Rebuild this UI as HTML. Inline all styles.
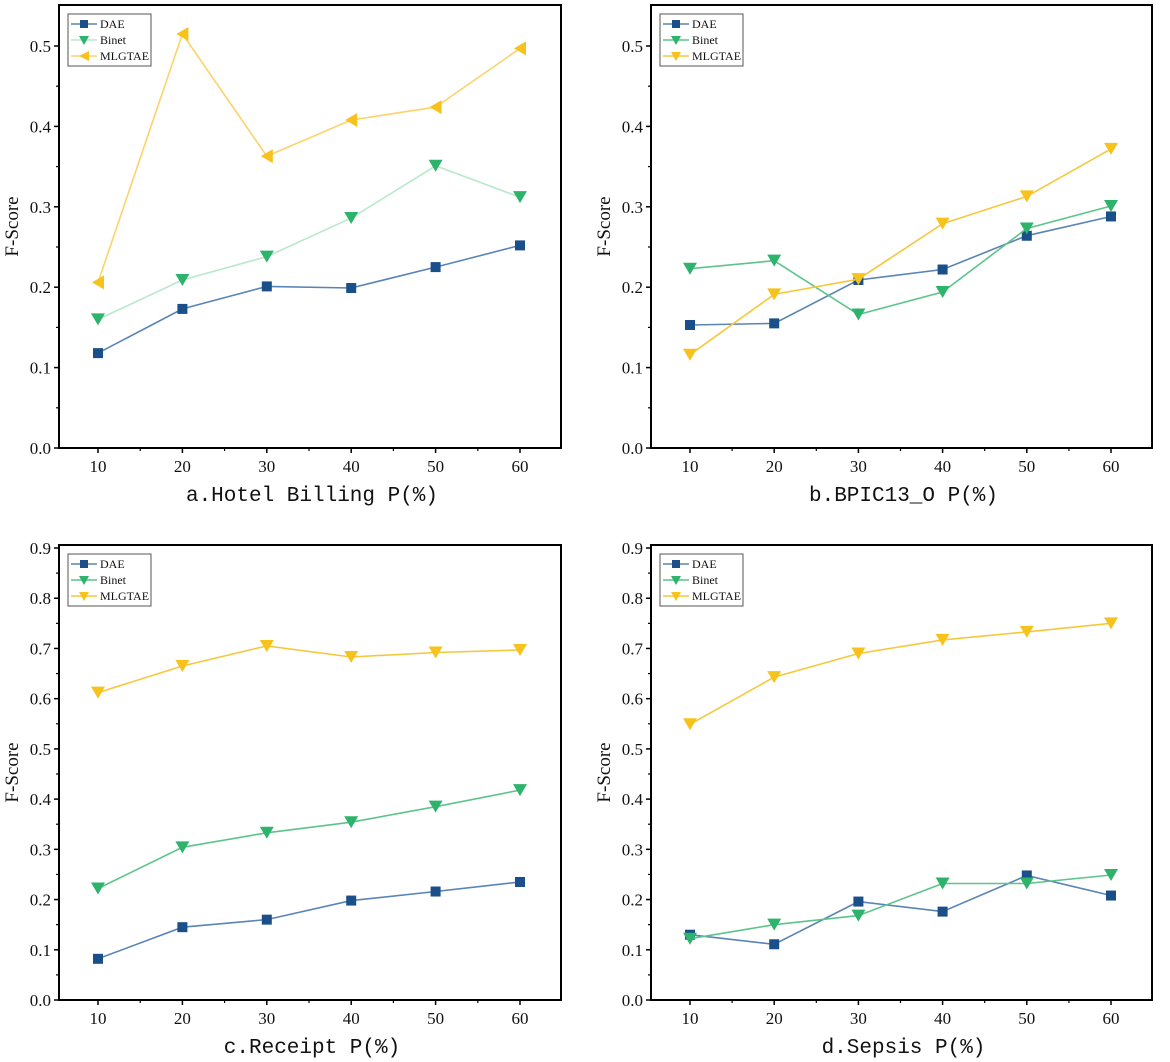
<!DOCTYPE html>
<html><head><meta charset="utf-8"><style>
html,body{margin:0;padding:0;background:#fff;}
svg{display:block;}
</style></head><body>
<svg id="c" width="1170" height="1062" xmlns="http://www.w3.org/2000/svg"></svg>
<script>
const xCats=[10,20,30,40,50,60];
const seriesNames=["DAE","Binet","MLGTAE"];
const aDAE=[0.118,0.173,0.201,0.199,0.225,0.252];
const aBinet=[0.160,0.209,0.238,0.286,0.351,0.312];
const aMLGTAE=[0.206,0.515,0.363,0.408,0.424,0.497];
const bDAE=[0.153,0.155,0.209,0.222,0.264,0.288];
const bBinet=[0.223,0.233,0.166,0.194,0.273,0.301];
const bMLGTAE=[0.116,0.191,0.210,0.279,0.313,0.372];
const cDAE=[0.082,0.145,0.160,0.198,0.216,0.235];
const cBinet=[0.222,0.304,0.333,0.354,0.385,0.418];
const cMLGTAE=[0.612,0.665,0.705,0.683,0.692,0.697];
const dDAE=[0.130,0.111,0.196,0.176,0.248,0.208];
const dBinet=[0.122,0.150,0.168,0.232,0.232,0.249];
const dMLGTAE=[0.549,0.643,0.690,0.717,0.733,0.750];
const yTicksTop=["0.0","0.1","0.2","0.3","0.4","0.5"];
const yTicksBot=["0.0","0.1","0.2","0.3","0.4","0.5","0.6","0.7","0.8","0.9"];
const titles=["a.Hotel Billing  P(%)","b.BPIC13_O P(%)","c.Receipt  P(%)","d.Sepsis  P(%)"];

const NS="http://www.w3.org/2000/svg";
const svg=document.getElementById('c');
function mk(tag,at,parent){const e=document.createElementNS(NS,tag);for(const k in at)e.setAttribute(k,at[k]);(parent||svg).appendChild(e);return e;}

const panels=[
 {id:'a',L:59,R:561,T:5,B:448,ymax:0.551,ticks:yTicksTop,data:[aDAE,aBinet,aMLGTAE],tri:'left',light:true,title:titles[0]},
 {id:'b',L:651,R:1152,T:5,B:448,ymax:0.551,ticks:yTicksTop,data:[bDAE,bBinet,bMLGTAE],tri:'down',light:false,title:titles[1]},
 {id:'c',L:59,R:561,T:545,B:1000,ymax:0.906,ticks:yTicksBot,data:[cDAE,cBinet,cMLGTAE],tri:'down',light:false,title:titles[2]},
 {id:'d',L:651,R:1152,T:545,B:1000,ymax:0.906,ticks:yTicksBot,data:[dDAE,dBinet,dMLGTAE],tri:'down',light:false,title:titles[3]}
];
const markerCol=["#1b4f8a","#2db36b","#f7c21b"];
function lineCol(i,light){return light?["#5a84b5","#b9e8cc","#fcd36a"][i]:["#5a84b5","#5cc48a","#f5c83c"][i];}

panels.forEach(p=>{
 const g=mk('g',{});
 
 
 const xS=v=>p.L+39+(v-10)/50*(p.R-p.L-80);
 const yS=v=>p.B-v/p.ymax*(p.B-p.T);
 // axes box
 const box=mk('rect',{x:p.L,y:p.T,width:p.R-p.L,height:p.B-p.T,fill:'none',stroke:'#000','stroke-width':2},g);
 
 
 // y ticks
 p.ticks.forEach((t,i)=>{
  const v=i*0.1,y=yS(v);
  mk('line',{x1:p.L-5,x2:p.L,y1:y,y2:y,stroke:'#000','stroke-width':1.5},g);
  if(i<p.ticks.length-1){const ym=yS(v+0.05);mk('line',{x1:p.L-3,x2:p.L,y1:ym,y2:ym,stroke:'#000','stroke-width':1.2},g);}
  const tx=mk('text',{x:p.L-8,y:y+6,'text-anchor':'end','font-family':'Liberation Serif, serif','font-size':17,fill:'#111'},g);
  tx.textContent=t;
  
  
 });
 // x ticks
 xCats.forEach((c,i)=>{
  const x=xS(c);
  mk('line',{x1:x,x2:x,y1:p.B,y2:p.B+5,stroke:'#000','stroke-width':1.5},g);
  const xm=xS(c+5);
  if(xm<p.R)mk('line',{x1:xm,x2:xm,y1:p.B,y2:p.B+3,stroke:'#000','stroke-width':1.2},g);
  const tx=mk('text',{x:x,y:p.B+24,'text-anchor':'middle','font-family':'Liberation Serif, serif','font-size':17,fill:'#111'},g);
  tx.textContent=c;
  
  
 });
 // axis titles
 const yt=mk('text',{x:0,y:0,transform:`translate(${p.L-41},${(p.T+p.B)/2}) rotate(-90)`,'text-anchor':'middle','font-family':'Liberation Serif, serif','font-size':19,fill:'#111'},g);
 yt.textContent='F-Score';
 
 
 const xt=mk('text',{x:(p.L+p.R)/2+2,y:p.B+53,'text-anchor':'middle','font-family':'Liberation Mono, "Noto Sans CJK SC", monospace','font-size':21,fill:'#111'},g);
 xt.textContent=p.title;
 
 
 // series
 p.data.forEach((arr,si)=>{
  const sg=mk('g',{},g);
  
  
  const pts=arr.map((v,i)=>xS(xCats[i]).toFixed(1)+','+yS(v).toFixed(1)).join(' ');
  const pl=mk('polyline',{points:pts,fill:'none',stroke:lineCol(si,p.light),'stroke-width':1.6},sg);
  
  
  arr.forEach((v,i)=>{
   const x=xS(xCats[i]),y=yS(v);let m;
   if(si===0)m=mk('rect',{x:x-5,y:y-5,width:10,height:10,fill:markerCol[0]},sg);
   else if(si===2&&p.tri==='left')m=mk('polygon',{points:`${x-6},${y} ${x+6},${y-7} ${x+6},${y+7}`,fill:markerCol[2]},sg);
   else m=mk('polygon',{points:`${x-7},${y-6} ${x+7},${y-6} ${x},${y+6}`,fill:markerCol[si]},sg);
   
   
  });
 });
 // legend
 const lg=mk('g',{},g);
 
 
 const lx=p.L+9,ly=p.T+9;
 mk('rect',{x:lx,y:ly,width:83,height:52,fill:'#fff',stroke:'#555','stroke-width':1},lg);
 seriesNames.forEach((n,si)=>{
  const y=ly+10+si*16;
  const e=mk('g',{},lg);
  
  
  mk('line',{x1:lx+3,x2:lx+29,y1:y,y2:y,stroke:lineCol(si,p.light),'stroke-width':1.5},e);
  const x=lx+16;
  if(si===0)mk('rect',{x:x-4,y:y-4,width:8,height:8,fill:markerCol[0]},e);
  else if(si===2&&p.tri==='left')mk('polygon',{points:`${x-5},${y} ${x+5},${y-5} ${x+5},${y+5}`,fill:markerCol[2]},e);
  else mk('polygon',{points:`${x-5},${y-4} ${x+5},${y-4} ${x},${y+5}`,fill:markerCol[si]},e);
  const t=mk('text',{x:lx+32,y:y+4,'font-family':'Liberation Serif, serif','font-size':12,fill:'#111'},e);
  t.textContent=n;
 });
});
</script>
</body></html>
